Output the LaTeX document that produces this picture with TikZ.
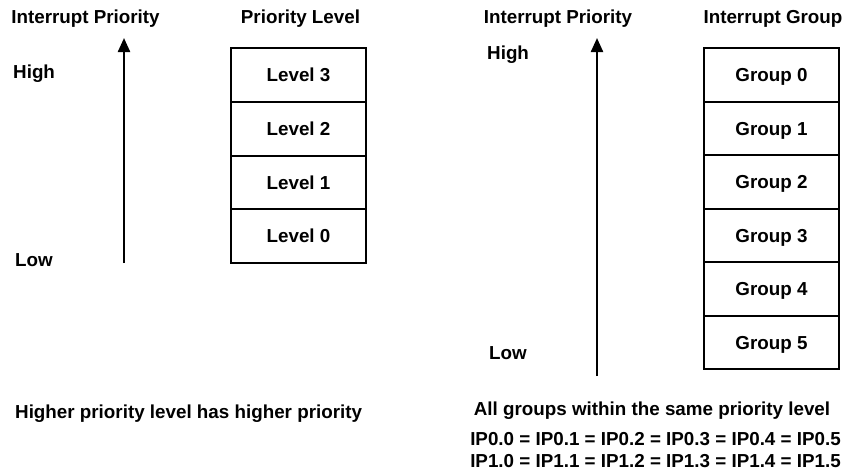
\documentclass[tikz,border=0pt]{standalone}
\usepackage{fontspec}
\setmainfont{Liberation Sans}
\usetikzlibrary{arrows.meta}
\begin{document}
\begin{tikzpicture}[x=1pt,y=-1pt,
  txt/.style={inner sep=0pt,font=\fontsize{18.8}{22}\selectfont\bfseries},
  cell/.style={draw,line width=2pt,minimum width=135pt,inner sep=0pt,
    text height=13.5pt,text depth=0pt,font=\fontsize{18.8}{22}\selectfont\bfseries},
  lcell/.style={cell,minimum height=53.75pt},
  rcell/.style={cell,minimum height=53.5pt},
  prio/.style={line width=2.3pt,-{Triangle[length=14pt,width=12pt]}}]
\useasboundingbox (0,0) rectangle (845,472);
% left panel
\node[txt,anchor=base] (t1) at (85.5,23) {Interrupt Priority};
\node[txt,anchor=base] (t2) at (300.5,23) {Priority Level};
\node[txt,anchor=base west] (hi1) at (13,78) {High};
\node[txt,anchor=base west] (lo1) at (15,266) {Low};
\coordinate (a1s) at (124,263);
\coordinate (a1e) at (124,38);
\draw[prio] (a1s) -- (a1e);
\node[lcell] (l3) at (298.5,74.875) {Level 3};
\node[lcell] (l2) at (298.5,128.625) {Level 2};
\node[lcell] (l1) at (298.5,182.375) {Level 1};
\node[lcell] (l0) at (298.5,236.125) {Level 0};
\node[txt,anchor=base west] (b1) at (15,418) {Higher priority level has higher priority};
% right panel
\node[txt,anchor=base] (t3) at (558,23) {Interrupt Priority};
\node[txt,anchor=base] (t4) at (773,23) {Interrupt Group};
\node[txt,anchor=base west] (hi2) at (487,59) {High};
\node[txt,anchor=base west] (lo2) at (489,359) {Low};
\coordinate (a2s) at (597,376);
\coordinate (a2e) at (597,38);
\draw[prio] (a2s) -- (a2e);
\node[rcell] (g0) at (771.5,74.75) {Group 0};
\node[rcell] (g1) at (771.5,128.25) {Group 1};
\node[rcell] (g2) at (771.5,181.75) {Group 2};
\node[rcell] (g3) at (771.5,235.25) {Group 3};
\node[rcell] (g4) at (771.5,288.75) {Group 4};
\node[rcell] (g5) at (771.5,342.25) {Group 5};
\node[txt,anchor=base] (b2) at (652,415) {All groups within the same priority level};
\node[txt,anchor=base] (b3) at (655.5,445) {IP0.0 = IP0.1 = IP0.2 = IP0.3 = IP0.4 = IP0.5};
\node[txt,anchor=base] (b4) at (655.5,467) {IP1.0 = IP1.1 = IP1.2 = IP1.3 = IP1.4 = IP1.5};
\end{tikzpicture}
\end{document}
